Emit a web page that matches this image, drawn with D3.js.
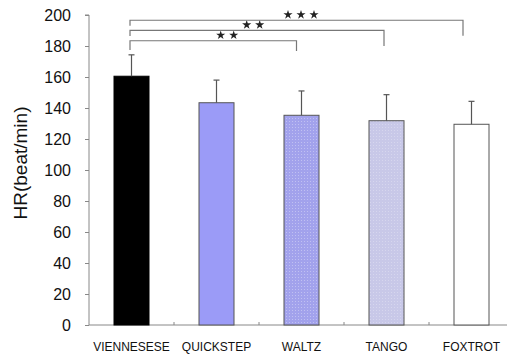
<!DOCTYPE html>
<html><head><meta charset="utf-8">
<script src="https://cdn.jsdelivr.net/npm/d3@7"></script>
<style>body{margin:0;background:#fff}</style>
</head><body>
<svg id="c" width="507" height="356"></svg>
<script>
const categories = ["VIENNESESE", "QUICKSTEP", "WALTZ", "TANGO", "FOXTROT"];
const means = [160.5, 143.4, 135.3, 131.8, 129.5];
const sds = [13.8, 14.6, 15.7, 16.8, 14.8];
const yTicks = [0, 20, 40, 60, 80, 100, 120, 140, 160, 180, 200];
// significance brackets: to category, bar level, left drop end, right drop end, star count
const sigTo = ["WALTZ", "TANGO", "FOXTROT"];
const sigLevel = [183.4, 190.1, 196.6];
const sigLeftEnd = [177.4, 186.5, 193.1];
const sigRightEnd = [176.8, 180.0, 186.6];
const sigStars = [2, 2, 3];

const svg = d3.select("#c");
const x0 = 89, yTop = 15, yBot = 325;
const x = d3.scaleBand().domain(categories).range([x0, x0 + 85 * categories.length]).padding(0);
const y = d3.scaleLinear().domain([0, 200]).range([yBot, yTop]);
const barW = x.bandwidth() * 35 / 85;
const cx = c => x(c) + x.bandwidth() / 2;

const defs = svg.append("defs");
const p1 = defs.append("pattern").attr("id", "pw").attr("width", 3).attr("height", 3).attr("patternUnits", "userSpaceOnUse");
p1.append("rect").attr("width", 3).attr("height", 3).attr("fill", "#a2a2ec");
p1.append("rect").attr("x", 1).attr("y", 1).attr("width", 1).attr("height", 1).attr("fill", "#c0c0f2");
const p2 = defs.append("pattern").attr("id", "pt").attr("width", 3).attr("height", 3).attr("patternUnits", "userSpaceOnUse");
p2.append("rect").attr("width", 3).attr("height", 3).attr("fill", "#c8c8e8");
p2.append("rect").attr("x", 1).attr("y", 1).attr("width", 1).attr("height", 1).attr("fill", "#d6d6ee");
const fills = ["#000000", "#9b9bf7", "url(#pw)", "url(#pt)", "#ffffff"];

// y axis
const yAxis = d3.axisLeft(y).tickValues(yTicks).tickSize(4).tickPadding(14);
const ga = svg.append("g").attr("transform", `translate(${x0},0)`).call(yAxis);
ga.select(".domain").attr("stroke", "#888").attr("d", `M-4,${yTop}H0V${yBot}`);
ga.selectAll(".tick line").attr("stroke", "#888");
ga.selectAll(".tick text").attr("font-family", "Liberation Sans, Arial, sans-serif").attr("font-size", 16).attr("fill", "#111");

// x axis
const xAxis = d3.axisBottom(x).tickSize(0).tickPadding(17);
const gx = svg.append("g").attr("transform", `translate(0,${yBot})`).call(xAxis);
gx.select(".domain").attr("stroke", "#888").attr("d", `M${x0},0H507`);
gx.selectAll(".tick text").attr("font-family", "Liberation Sans Narrow, Arial Narrow, sans-serif").attr("font-size", 12).attr("fill", "#111");
// category boundary ticks (inside)
svg.append("g").selectAll("line").data(categories.slice(1)).join("line")
  .attr("x1", d => x(d)).attr("x2", d => x(d)).attr("y1", yBot).attr("y2", yBot - 3)
  .attr("stroke", "#888");

// bars
svg.append("g").selectAll("rect").data(categories).join("rect")
  .attr("x", d => cx(d) - barW / 2)
  .attr("y", (d, i) => y(means[i]))
  .attr("width", barW)
  .attr("height", (d, i) => yBot - y(means[i]))
  .attr("fill", (d, i) => fills[i])
  .attr("stroke", (d, i) => i === 0 ? "#000" : "#555")
  .attr("stroke-width", 1);

// error bars
const eb = svg.append("g").attr("stroke", "#555").attr("stroke-width", 1.2);
categories.forEach((c, i) => {
  eb.append("line").attr("x1", cx(c)).attr("x2", cx(c)).attr("y1", y(means[i])).attr("y2", y(means[i] + sds[i]));
  eb.append("line").attr("x1", cx(c) - 3).attr("x2", cx(c) + 3).attr("y1", y(means[i] + sds[i])).attr("y2", y(means[i] + sds[i]));
});

// significance brackets
const rightOffsets = [-5, -2.5, -8.5];
const starStart = [220.7, 246.7, 288];
const star = d3.symbol(d3.symbolStar, 26)();
const bg = svg.append("g");
sigTo.forEach((c, i) => {
  const xl = cx(categories[0]) - 1.5, xr = cx(c) + rightOffsets[i];
  bg.append("path")
    .attr("d", `M${xl},${y(sigLevel[i])}V${y(sigLevel[i])}`)
    .attr("fill", "none");
  bg.append("path")
    .attr("d", `M${xl},${y(sigLeftEnd[i])}V${y(sigLevel[i])}H${xr}V${y(sigRightEnd[i])}`)
    .attr("fill", "none").attr("stroke", "#777").attr("stroke-width", 1.2);
  d3.range(sigStars[i]).forEach(k => {
    bg.append("path")
      .attr("d", star)
      .attr("transform", `translate(${starStart[i] + k * 13},${y(sigLevel[i]) - 5.5})`)
      .attr("fill", "#222");
  });
});

// y title
svg.append("text")
  .attr("transform", `translate(27,${(yTop + yBot) / 2 - 7}) rotate(-90)`)
  .attr("text-anchor", "middle")
  .attr("font-family", "Liberation Sans, Arial, sans-serif")
  .attr("font-size", 19)
  .attr("fill", "#111")
  .text("HR(beat/min)");
</script>
</body></html>
